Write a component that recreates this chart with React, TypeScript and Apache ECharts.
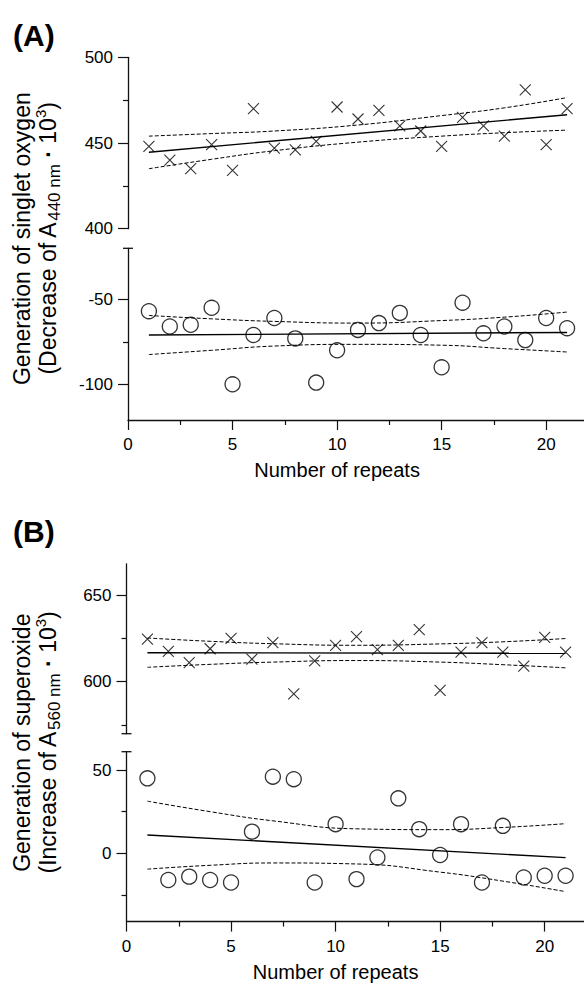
import React, { useEffect, useRef } from "react";
import * as echarts from "echarts";

// ---------- data ----------
const repeats = [1, 2, 3, 4, 5, 6, 7, 8, 9, 10, 11, 12, 13, 14, 15, 16, 17, 18, 19, 20, 21];

// Panel A – singlet oxygen
const singletCross = [448, 440, 435, 449, 434, 470, 447, 446, 451, 471, 464, 469, 460, 457, 448, 465, 460, 454, 481, 449, 470];
const singletCircle = [-57, -66, -65, -55, -100, -71, -61, -73, -99, -80, -68, -64, -58, -71, -90, -52, -70, -66, -74, -61, -67];

// Panel B – superoxide
const superoxideCross = [624.5, 617.5, 611, 619, 625, 613, 622.5, 593, 612, 621, 626, 618.5, 621, 630, 595, 617, 622.5, 617, 609, 625.5, 617];
const superoxideCircle = [45, -16, -14, -16, -17.5, 13, 46, 44.5, -17.5, 17.5, -15.5, -2.5, 33, 14.5, -1, 17.5, -17.5, 16.5, -14.5, -13.5, -13.5];

// regression lines (end points) and 95% bands read at these x positions
const fitX = [1, 21];
const bandX = [1, 4, 7, 11, 15, 18, 21];

const fitA1 = [444.6, 466.5];
const upperA1 = [454, 455.5, 457, 460.5, 466, 470.5, 476.5];
const lowerA1 = [435, 440.5, 445.5, 450.5, 454, 456, 457.5];

const fitA2 = [-71, -69.5];
const upperA2 = [-59.5, -61.5, -63, -64, -62.5, -60.5, -57.5];
const lowerA2 = [-82.5, -80, -77.5, -76.5, -77, -79, -81];

const fitB1 = [616.7, 616.4];
const upperB1 = [625.2, 623.3, 621.9, 621, 621.8, 623, 624.9];
const lowerB1 = [608.3, 610, 611.3, 612.2, 611.3, 609.8, 608];

const fitB2 = [11, -2.6];
const upperB2 = [31.3, 25, 19.5, 14.7, 14.2, 15.5, 17.8];
const lowerB2 = [-9.5, -7.2, -5.8, -6.4, -11.3, -16.7, -23];

// tick labels
const xMajorTicks = [0, 5, 10, 15, 20];
const xMinorTicks = [2.5, 7.5, 12.5, 17.5];
const yMajorA1 = [400, 450, 500];
const yMinorA1 = [425, 475];
const yMajorA2 = [-100, -50];
const yMinorA2 = [-75];
const yMajorB1 = [600, 650];
const yMinorB1 = [575, 625];
const yMajorB2 = [0, 50];
const yMinorB2 = [-25, 25];

const xTitle = "Number of repeats";
const panelLabels = ["(A)", "(B)"];
const yTitleA = ["Generation of singlet oxygen", "(Decrease of A{sub|440 nm} {dot|·} 10{sup|3})"];
const yTitleB = ["Generation of superoxide", "(Increase of A{sub|560 nm} {dot|·} 10{sup|3})"];

// ---------- layout ----------
const FONT = "'Liberation Sans', Arial, Helvetica, sans-serif";
const CROSS = "path://M0 0L10 10M10 0L0 10";

type Panel = {
  grid: { left: number; top: number; width: number; height: number };
  yMin: number;
  yMax: number;
  yMajor: number[];
  yMinor: number[];
  showX: boolean;
  values: number[];
  marker: "cross" | "circle";
  fit: number[];
  upper: number[];
  lower: number[];
};

const panels: Panel[] = [
  { grid: { left: 128, top: 57.3, width: 460, height: 171.4 }, yMin: 400, yMax: 500, yMajor: yMajorA1, yMinor: yMinorA1, showX: false, values: singletCross, marker: "cross", fit: fitA1, upper: upperA1, lower: lowerA1 },
  { grid: { left: 128, top: 248.3, width: 460, height: 171.7 }, yMin: -121, yMax: -20, yMajor: yMajorA2, yMinor: yMinorA2, showX: true, values: singletCircle, marker: "circle", fit: fitA2, upper: upperA2, lower: lowerA2 },
  { grid: { left: 126.5, top: 563.8, width: 460, height: 169.9 }, yMin: 570, yMax: 668, yMajor: yMajorB1, yMinor: yMinorB1, showX: false, values: superoxideCross, marker: "cross", fit: fitB1, upper: upperB1, lower: lowerB1 },
  { grid: { left: 126.5, top: 751.7, width: 460, height: 169.9 }, yMin: -41, yMax: 61, yMajor: yMajorB2, yMinor: yMinorB2, showX: true, values: superoxideCircle, marker: "circle", fit: fitB2, upper: upperB2, lower: lowerB2 },
];

const pairs = (xs: number[], ys: number[]) => xs.map((x, i) => [x, ys[i]]);

function buildOption() {
  const grid: any[] = [];
  const xAxis: any[] = [];
  const yAxis: any[] = [];
  const series: any[] = [];
  const axisColor = "#111";

  panels.forEach((p, g) => {
    grid.push({ ...p.grid, containLabel: false, outerBoundsMode: "none" });
    xAxis.push({
      type: "value", gridIndex: g, min: 0, max: 22, show: p.showX, position: "bottom",
      splitLine: { show: false },
      axisLine: { show: true, onZero: false, lineStyle: { color: axisColor, width: 1.3 } },
      axisTick: { show: true, customValues: xMajorTicks, length: 10, lineStyle: { color: axisColor, width: 1.2 } },
      axisLabel: { show: true, customValues: xMajorTicks, fontSize: 17, color: "#000", fontFamily: FONT, margin: 16 },
    });
    xAxis.push({
      type: "value", gridIndex: g, min: 0, max: 22, show: p.showX, position: "bottom",
      splitLine: { show: false },
      axisLine: { show: false, onZero: false },
      axisTick: { show: true, customValues: xMinorTicks, length: 5, lineStyle: { color: axisColor, width: 1.2 } },
      axisLabel: { show: false },
    });
    yAxis.push({
      type: "value", gridIndex: g, min: p.yMin, max: p.yMax, position: "left",
      splitLine: { show: false },
      axisLine: { show: true, onZero: false, lineStyle: { color: axisColor, width: 1.3 } },
      axisTick: { show: true, customValues: p.yMajor, length: 10, lineStyle: { color: axisColor, width: 1.2 } },
      axisLabel: { show: true, customValues: p.yMajor, fontSize: 17, color: "#000", fontFamily: FONT, margin: 15 },
    });
    yAxis.push({
      type: "value", gridIndex: g, min: p.yMin, max: p.yMax, position: "left",
      splitLine: { show: false },
      axisLine: { show: false, onZero: false },
      axisTick: { show: true, customValues: p.yMinor, length: 5, lineStyle: { color: axisColor, width: 1.2 } },
      axisLabel: { show: false },
    });

    const xi = 2 * g;
    const yi = 2 * g;
    const dashed = { color: "#000", width: 1, type: [4, 2] };
    series.push({
      type: "line", xAxisIndex: xi, yAxisIndex: yi, data: pairs(bandX, p.upper), smooth: true,
      showSymbol: false, silent: true, lineStyle: dashed, z: 2,
    });
    series.push({
      type: "line", xAxisIndex: xi, yAxisIndex: yi, data: pairs(bandX, p.lower), smooth: true,
      showSymbol: false, silent: true, lineStyle: dashed, z: 2,
    });
    series.push({
      type: "line", xAxisIndex: xi, yAxisIndex: yi, data: pairs(fitX, p.fit),
      showSymbol: false, silent: true, lineStyle: { color: "#000", width: 1.4 }, z: 2,
    });
    series.push({
      type: "scatter", xAxisIndex: xi, yAxisIndex: yi, data: pairs(repeats, p.values),
      symbol: p.marker === "cross" ? CROSS : "circle",
      symbolSize: p.marker === "cross" ? 11 : 15,
      itemStyle: { color: "transparent", borderColor: "#000", borderWidth: p.marker === "cross" ? 1.1 : 1.3 },
      silent: true, z: 3,
    });
  });

  return {
    animation: false,
    backgroundColor: "#fff",
    textStyle: { fontFamily: FONT },
    grid, xAxis, yAxis, series,
  };
}

function buildGraphic(chart: any) {
  const px = (g: number, x: number, y: number) => chart.convertToPixel({ gridIndex: g }, [x, y]) as number[];
  const els: any[] = [];
  const base = { fontFamily: FONT, fill: "#000" };
  const rich = {
    sub: { fontSize: 17, fontFamily: FONT, verticalAlign: "bottom", lineHeight: 16, padding: [0, 0, 0, 1] },
    sup: { fontSize: 15, fontFamily: FONT, verticalAlign: "top", lineHeight: 14 },
    dot: { fontSize: 23, fontFamily: FONT, fontWeight: "bold" },
  };

  // panel letters
  els.push({ type: "text", x: 13, y: 35, style: { ...base, text: panelLabels[0], fontSize: 30, fontWeight: "bold", textAlign: "left", textVerticalAlign: "middle", align: "left", verticalAlign: "middle" } });
  els.push({ type: "text", x: 13, y: 531, style: { ...base, text: panelLabels[1], fontSize: 30, fontWeight: "bold", textAlign: "left", textVerticalAlign: "middle", align: "left", verticalAlign: "middle" } });

  // y titles
  const titles = [yTitleA, yTitleB];
  [0, 1].forEach((k) => {
    const top = px(2 * k, 0, panels[2 * k].yMax)[1];
    const bottom = px(2 * k + 1, 0, panels[2 * k + 1].yMin)[1];
    const cy = (top + bottom) / 2;
    els.push({ type: "text", x: 22, y: cy, rotation: Math.PI / 2, style: { ...base, text: titles[k][0], fontSize: 23, textAlign: "center", textVerticalAlign: "middle", align: "center", verticalAlign: "middle" } });
    els.push({ type: "text", x: 48, y: cy, rotation: Math.PI / 2, style: { ...base, text: titles[k][1], fontSize: 23, lineHeight: 30, rich, textAlign: "center", textVerticalAlign: "middle", align: "center", verticalAlign: "middle" } });
    // x title
    const g = 2 * k + 1;
    const pt = px(g, 10, panels[g].yMin);
    els.push({ type: "text", x: pt[0], y: pt[1] + 50, style: { ...base, text: xTitle, fontSize: 20, textAlign: "center", textVerticalAlign: "middle", align: "center", verticalAlign: "middle" } });
  });

  // axis break marks
  const breaks: [number, number][] = [[1, panels[1].yMax], [2, panels[2].yMin], [3, panels[3].yMax]];
  breaks.forEach(([g, v]) => {
    const p = px(g, 0, v);
    els.push({ type: "line", shape: { x1: p[0] - 5, y1: p[1], x2: p[0] + 5, y2: p[1] }, style: { stroke: "#111", lineWidth: 1.3 } });
  });
  return els;
}

export default function App() {
  const ref = useRef<HTMLDivElement>(null);
  useEffect(() => {
    const chart = echarts.init(ref.current!, null, { renderer: "svg" });
    chart.setOption(buildOption());
    chart.setOption({ graphic: buildGraphic(chart) });
    return () => chart.dispose();
  }, []);
  return <div ref={ref} style={{ position: "absolute", left: 0, top: 0, width: 584, height: 987, background: "#fff" }} />;
}
